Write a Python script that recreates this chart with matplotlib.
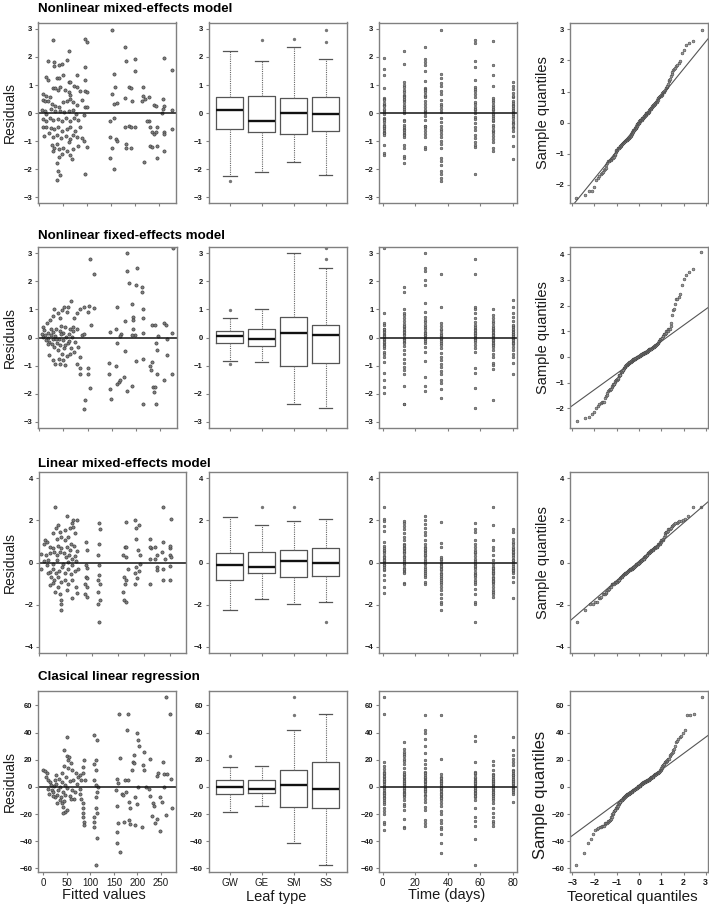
import math
import numpy as np
import matplotlib
matplotlib.use("Agg")
import matplotlib.pyplot as plt

plt.rcParams['font.family'] = ['Liberation Sans', 'DejaVu Sans']

# ---------------- data ----------------
titles = ["Nonlinear mixed-effects model", "Nonlinear fixed-effects model",
          "Linear mixed-effects model", "Clasical linear regression"]
leaf_types = ["GW", "GE", "SM", "SS"]
times = [1, 13, 26, 36, 57, 68, 80]

# residuals vs fitted values: (fitted, residual)
r1_fit = [(29,2.59),(95,2.65),(99,2.53),(151,2.98),(179,2.35),(61,2.23),(180,1.84),(200,1.91),(259,1.97),(19,1.85),
          (31,1.81),(31,1.69),(42,1.72),(47,1.75),(57,1.9),(95,1.66),(200,1.49),(276,1.55),(15,1.3),(19,1.18),
          (36,1.25),(42,1.25),(50,1.37),(62,1.1),(65,1.1),(79,1.34),(95,1.18),(155,1.4),(8,0.68),(15,0.62),
          (22,0.58),(28,0.9),(33,0.9),(38,0.82),(43,0.94),(54,0.82),(61,0.74),(65,0.66),(72,0.98),(78,0.94),
          (84,0.8),(95,0.78),(100,0.74),(151,0.68),(158,0.94),(186,0.92),(191,0.9),(217,0.92),(217,0.62),(228,0.58),
          (258,0.5),(259,0.26),(276,0.11),(7,0.47),(12,0.44),(19,0.42),(26,0.32),(33,0.26),(42,0.2),(49,0.38),
          (57,0.44),(64,0.49),(71,0.38),(78,0.3),(88,0.47),(95,0.23),(100,0.2),(155,0.32),(162,0.35),(179,0.54),
          (193,0.44),(214,0.44),(221,0.5),(240,0.3),(244,0.26),(258,0.14),(5,0.11),(12,0.08),(15,-0.04),(24,0.14),
          (33,0.06),(43,0.08),(52,0.02),(61,0.08),(70,0.11),(77,-0.04),(7,-0.21),(14,-0.27),(22,-0.18),(29,-0.25),
          (38,-0.21),(47,-0.27),(55,-0.18),(64,-0.3),(72,-0.16),(81,-0.25),(94,-0.06),(8,-0.51),(15,-0.49),(24,-0.54),
          (31,-0.57),(40,-0.51),(48,-0.63),(57,-0.57),(65,-0.51),(75,-0.63),(84,-0.49),(10,-0.81),(20,-0.73),(29,-0.87),
          (36,-0.78),(45,-0.9),(55,-0.81),(64,-0.93),(71,-0.78),(79,-0.85),(88,-0.9),(27,-1.13),(31,-1.23),(36,-1.09),
          (42,-1.29),(50,-1.23),(61,-1.05),(70,-1.29),(81,-1.17),(94,-0.99),(99,-1.21),(29,-1.35),(42,-1.56),(47,-1.47),
          (57,-1.35),(65,-1.49),(68,-1.65),(36,-1.8),(40,-2.06),(43,-2.21),(36,-2.4),(95,-2.18),(148,-0.27),(155,-0.16),
          (148,-0.87),(151,-1.23),(148,-1.61),(155,-2.0),(160,-0.93),(163,-0.99),(179,-0.49),(186,-0.45),(191,-0.49),(200,-0.49),
          (181,-1.11),(181,-1.23),(191,-1.23),(219,-1.73),(228,-0.27),(231,-0.51),(235,-0.66),(240,-0.75),(230,-1.17),(235,-1.2),
          (244,-0.66),(245,-1.17),(245,-1.59),(259,-0.66),(259,-0.75),(259,-1.35),(276,-0.57),(224,-0.27),(245,-0.49),(256,-0.01)]

r2_fit = [(8,0.38),(15,0.52),(22,0.62),(29,0.76),(31,1.0),(38,0.88),(42,0.68),(47,0.98),(52,1.07),(57,0.92),
          (60,1.1),(65,1.31),(71,0.68),(78,0.86),(85,1.0),(92,1.1),(100,0.92),(106,0.44),(113,1.04),(104,2.79),
          (113,2.26),(102,1.12),(5,0.14),(8,0.02),(12,0.08),(14,-0.1),(17,0.17),(19,0.0),(21,-0.15),(24,0.08),
          (26,-0.24),(28,-0.07),(29,0.2),(31,-0.33),(33,0.05),(35,0.32),(36,-0.19),(38,-0.45),(40,-0.04),(42,0.24),
          (43,-0.27),(45,0.4),(47,-0.57),(49,-0.1),(50,0.17),(52,-0.39),(53,0.36),(56,0.02),(57,-0.67),(59,-0.21),
          (61,0.12),(63,0.32),(65,-0.39),(67,0.02),(69,0.38),(72,-0.51),(74,-0.15),(78,0.29),(81,-0.33),(85,-0.69),
          (88,0.08),(92,0.14),(21,-0.63),(29,-0.81),(33,-0.95),(40,-0.75),(42,-0.95),(49,-0.79),(53,-0.99),(64,-0.6),
          (79,-0.95),(85,-1.1),(85,-1.29),(100,-1.1),(100,-1.31),(104,-1.79),(95,-2.24),(92,-2.54),(10,0.25),(18,-0.22),
          (25,0.3),(34,-0.05),(44,0.12),(54,-0.28),(62,-0.12),(70,0.22),(147,0.2),(158,0.32),(160,1.1),(169,0.14),
          (177,0.6),(181,2.35),(182,3.02),(185,1.93),(192,1.19),(194,0.74),(194,0.62),(194,0.32),(199,0.08),(203,2.46),
          (201,1.87),(213,1.79),(213,1.63),(215,1.0),(215,0.71),(215,0.17),(192,0.08),(168,0.05),(144,-0.9),(144,-1.29),
          (146,-1.82),(148,-2.18),(158,-1.02),(160,-0.21),(160,-1.67),(165,-1.58),(168,-1.52),(175,-1.4),(178,-0.48),(182,-1.9),
          (192,-1.74),(201,-0.83),(215,-0.75),(215,-2.36),(230,-1.02),(231,-1.17),(233,-0.87),(235,-1.76),(237,-1.94),(240,-1.76),
          (242,-2.38),(244,-1.29),(244,-0.45),(242,-0.19),(234,0.44),(240,0.44),(246,0.05),(258,0.5),(262,0.44),(258,-1.52),
          (265,-0.63),(265,-0.07),(274,0.17),(274,-1.29),(276,3.18)]

r3_fit = [(11,1.06),(8,0.9),(14,0.98),(30,2.65),(52,2.21),(62,1.86),(65,2.02),(72,2.02),(36,1.78),(32,1.62),
          (39,1.46),(49,1.54),(58,1.62),(65,1.7),(68,1.38),(27,1.38),(33,1.14),(42,1.22),(49,1.06),(55,1.19),
          (61,0.9),(20,0.75),(27,0.71),(36,0.78),(42,0.67),(52,0.75),(58,0.59),(66,0.78),(72,0.56),(4,0.4),
          (13,0.35),(20,0.43),(28,0.51),(34,0.35),(39,0.51),(47,0.43),(51,0.27),(57,0.35),(62,0.19),(68,0.3),
          (8,0.08),(17,0.14),(27,-0.08),(34,0.11),(46,-0.05),(55,0.03),(63,-0.13),(70,0.08),(4,-0.33),(14,-0.13),
          (20,-0.44),(27,-0.33),(32,-0.52),(38,-0.4),(44,-0.21),(49,-0.49),(55,-0.33),(60,-0.56),(68,-0.4),(74,-0.29),
          (17,-0.52),(23,-0.68),(28,-0.81),(36,-0.71),(42,-0.92),(49,-0.81),(55,-1.0),(62,-0.84),(70,-1.16),(20,-1.08),
          (27,-0.97),(35,-1.16),(30,-1.4),(39,-1.48),(41,-1.76),(42,-1.95),(42,-2.27),(52,-1.32),(63,-1.67),(72,-1.44),
          (89,0.98),(91,0.59),(89,-0.13),(91,-0.24),(89,-0.68),(91,-0.76),(87,-1.03),(91,-1.16),(87,-1.48),(91,-1.63),
          (114,1.89),(115,1.57),(114,0.87),(112,0.35),(114,-0.13),(114,-0.6),(112,-0.84),(115,-1.03),(112,-1.4),(115,-1.79),
          (112,-1.95),(114,-2.83),(160,0.35),(165,0.27),(163,0.75),(166,0.75),(161,-0.68),(166,-0.81),(163,-1.0),(160,-1.4),
          (161,-1.76),(166,-1.87),(166,1.94),(169,-0.29),(182,2.02),(185,1.62),(190,1.78),(184,1.14),(188,0.59),(192,0.35),
          (185,-0.21),(190,-0.4),(182,-0.52),(182,-1.0),(186,-0.76),(192,-0.08),(211,1.1),(214,0.67),(211,0.75),(212,0.19),
          (211,-1.03),(220,0.75),(224,0.35),(224,-0.21),(225,-0.37),(220,0.19),(236,2.65),(237,0.98),(235,0.51),(239,0.19),
          (236,-0.29),(236,-0.81),(249,0.67),(250,0.78),(252,2.05),(250,0.35),(252,0.24),(249,-0.17),(250,-0.81)]

r4_fit = [(0,12.7),(4,11.8),(7,10.3),(6,7.3),(11,5.4),(14,3.7),(16,1.2),(11,-1.2),(18,-2.4),(13,-4.9),
          (21,-3.7),(23,0.5),(25,4.9),(27,8.6),(28,2.4),(30,-6.1),(32,-2),(34,6.1),(35,0),(37,-7.8),
          (39,3.7),(39,10.3),(41,-3.7),(43,15.2),(44,27.4),(46,1.2),(46,-6.1),(48,7.3),(50,36.7),(50,22.5),
          (51,-0.5),(53,20.1),(53,14.2),(55,22),(57,4.4),(58,17.6),(60,12.2),(62,-2.4),(64,4.9),(65,-8.6),
          (67,-3.7),(70,10.3),(71,2.4),(39,-12.2),(41,-14.7),(44,-10.3),(50,-16.7),(46,-18.4),(57,-6.9),(59,-8.6),
          (35,-9.3),(30,-11.8),(25,-7.3),(20,-6.9),(41,-19.6),(77,-1.2),(78,-4.9),(80,-8.6),(74,7.3),(78,8.6),
          (81,4.9),(84,-11.8),(85,-15.9),(85,-19.6),(85,-22),(87,-25.7),(87,-28.2),(87,19.6),(85,14.7),(85,10.3),
          (89,4.9),(108,38),(114,34.3),(111,19.6),(108,17.1),(111,12.2),(108,4.9),(112,1.2),(111,-7.3),(111,-15.9),
          (114,-19.6),(108,-22.5),(108,-25.7),(108,-29.4),(114,-38),(112,-57.6),(116,0),(114,-3.7),(156,6.1),(158,2.9),
          (155,-2.4),(156,-14.2),(158,-26.5),(156,-33.1),(156,-41.6),(160,53.4),(163,21.6),(162,-47.8),(167,-4.9),(170,-6.1),
          (171,-25.7),(174,4.9),(176,-3.7),(178,42.1),(179,53.4),(181,5.4),(183,-24.5),(185,-27.4),(183,-11),(185,-15.9),
          (189,12.2),(191,18.4),(192,17.6),(193,23.3),(195,-7.8),(195,-28.2),(199,39.7),(200,-12.7),(201,34.3),(203,29.9),
          (201,0),(209,-29.4),(211,15.9),(214,12.2),(214,25.7),(219,0),(224,-1.2),(227,-6.9),(226,20.8),(231,-21.5),
          (233,-12.2),(236,-14.2),(238,-26.5),(241,7.8),(243,10.3),(247,-32.3),(247,-7.3),(252,-11),(254,18.4),(256,9.8),
          (257,0),(260,66.1),(260,-20.8),(262,9.8),(270,53.9),(271,6.1),(273,-15.9),(241,-24)]

# residuals grouped by sampling time (one list per entry of `times`)
r1_time = [
    [1.97,1.57,1.37,0.9,0.55,0.5,0.45,0.3,0.28,0.24,0.1,0.05,-0.04,-0.16,-0.2,-0.33,-0.42,-0.5,-0.55,-0.6,-0.66,-0.7,-0.73,-0.8,-1.13,-1.44,-1.5,0.35,-0.25,-0.45,0.15],
    [2.23,1.75,1.1,1.01,0.92,0.82,0.74,0.64,0.6,0.56,0.47,0.38,0.3,0.23,0.08,-0.01,-0.25,-0.42,-0.51,-0.57,-0.62,-0.67,-0.75,-0.87,-1.13,-1.23,-1.53,-1.61,-1.77,0.15,-0.3,0.5,-0.8],
    [2.35,1.93,1.81,1.7,1.49,1.16,0.9,0.85,0.82,0.74,0.6,0.56,0.44,0.32,0.08,-0.01,-0.25,-0.45,-0.48,-0.54,-0.75,-0.87,-1.21,-1.29,0.2,-0.1,0.65,-0.65,0.1],
    [2.98,1.4,1.25,1.06,0.98,0.8,0.68,0.32,0.26,-0.16,-0.33,-0.57,-0.75,-0.87,-0.99,-1.11,-1.23,-1.59,-1.71,-1.85,-2.07,-2.19,-2.31,-2.42,0.05,-0.45,0.45,-0.65,0.15],
    [2.62,2.51,1.85,1.64,1.18,0.94,0.78,0.68,0.56,0.32,0.23,0.1,-0.01,-0.13,-0.22,-0.6,-0.78,-1.05,-1.13,-1.21,-2.19,0.4,-0.35,0.15,-0.5,0.85,-0.9],
    [2.57,1.73,1.34,0.98,0.47,0.38,0.23,0.1,-0.01,-0.1,-0.18,-0.3,-0.42,-0.51,-0.63,-0.73,-0.81,-0.93,-1.05,-1.23,-1.35,0.55,0.3,-0.05,-0.25,-0.6,0.15],
    [1.1,0.98,0.86,0.7,0.56,0.44,0.3,0.18,0.08,-0.01,-0.1,-0.18,-0.27,-0.37,-0.49,-0.63,-0.81,-1.17,-1.65,0.35,0.12,-0.05,-0.4,-0.55,0.62,0.25]]

r2_time = [
    [4.08,3.18,0.88,0.52,0.44,0.32,0.24,0.14,0.02,-0.1,-0.19,-0.27,-0.39,-0.51,-0.6,-0.69,-0.87,-1.26,-1.5,-1.76,-1.98,0.1,-0.05,0.2,-0.15,0.3,0.05,-0.3],
    [1.81,1.63,1.0,0.88,0.8,0.68,0.6,0.48,0.36,0.24,0.14,0.08,-0.04,-0.15,-0.31,-0.45,-0.57,-0.75,-0.9,-1.05,-1.14,-1.29,-1.74,-2.36,-2.38,0.0,0.2,-0.1,0.3,-0.2,0.42],
    [3.42,3.02,2.46,2.35,2.05,1.87,1.21,0.92,0.74,0.64,0.56,0.38,0.2,0.08,0.0,-0.12,-0.33,-0.51,-0.85,-1.4,-1.74,-1.9,0.3,-0.05,0.15,0.45,-0.2,0.1],
    [2.26,1.1,0.52,0.4,0.26,0.17,-0.07,-0.19,-0.36,-0.55,-0.69,-0.81,-0.93,-1.05,-1.19,-1.29,-1.52,-1.62,-1.82,-2.14,0.05,-0.12,0.1,-0.28,0.32,-0.02],
    [3.3,2.8,2.26,1.1,1.0,0.88,0.71,0.56,0.44,0.32,0.2,0.12,0.02,-0.07,-0.15,-0.39,-0.51,-1.07,-1.26,-1.79,-2.5,0.08,-0.02,0.25,0.38,-0.1,0.15,-0.25],
    [1.0,0.8,0.68,0.6,0.5,0.4,0.24,0.14,0.05,-0.04,-0.12,-0.24,-0.33,-0.43,-0.57,-0.69,-0.9,-0.99,-1.11,-2.24,0.1,-0.08,0.18,0.3,-0.18,0.0,0.35,-0.28],
    [1.33,1.1,0.88,0.74,0.6,0.4,0.36,0.26,0.2,0.14,0.08,0.0,-0.07,-0.15,-0.24,-0.33,-0.45,-0.57,-0.69,-0.9,-1.31,0.05,-0.1,0.12,0.3,-0.2,0.45,-0.02,0.18]]

r3_time = [
    [2.65,2.05,1.97,1.73,1.51,0.98,0.78,0.67,0.54,0.43,0.3,0.19,0.08,-0.02,-0.13,-0.21,-0.37,-0.6,-0.81,-1.16,-1.44,0.25,-0.3,0.6,-0.1,0.12],
    [1.97,1.86,1.73,1.57,1.38,1.22,1.06,0.9,0.83,0.75,0.62,0.51,0.43,0.32,0.19,0.08,-0.02,-0.13,-0.24,-0.37,-0.44,-0.52,-0.97,-1.03,0.55,0.25,-0.3,0.7,0.0],
    [2.21,2.02,1.83,1.62,1.46,1.3,1.06,0.87,0.75,0.67,0.54,0.43,0.3,0.19,0.08,-0.05,-0.21,-0.4,-0.52,-0.68,-0.92,-1.03,0.35,0.6,-0.3,0.0,-0.6],
    [1.94,0.94,0.75,0.24,0.11,-0.08,-0.21,-0.37,-0.49,-0.65,-0.76,-0.92,-1.03,-1.16,-1.32,-1.48,-1.71,-1.87,-1.98,-2.24,0.0,-0.3,-0.55,-0.85,0.15,-0.15],
    [1.89,1.57,1.46,1.06,0.87,0.75,0.59,0.43,0.19,0.08,-0.08,-0.21,-0.33,-0.44,-0.56,-0.68,-0.81,-0.92,-1.03,-1.24,-1.51,-1.87,-1.98,-2.83,0.3,-0.15,0.5,-0.6,0.0],
    [2.65,1.78,1.06,0.75,0.59,0.35,-0.08,-0.21,-0.33,-0.44,-0.56,-0.68,-0.81,-0.92,-1.03,-1.16,-1.29,-1.4,-1.51,-1.63,-0.5,-0.25,-0.75,-0.9,0.1,-0.4],
    [1.57,1.46,1.1,0.98,0.87,0.75,0.59,0.46,0.35,0.24,0.14,0.03,-0.08,-0.17,-0.29,-0.4,-0.52,-0.68,-0.92,-1.67,0.5,0.1,-0.25,0.65,-0.35]]

r4_time = [
    [66.1,53.9,18.4,15.2,13.5,11,9.3,7.3,5.4,3.7,2,0,-2,-3.7,-5.4,-7.3,-9.3,-11,-12.7,-15.9,-17.6,-20.1,-25.7,-27.4,-31.8,1,-1,4.5,-4.5,6,-6,8,-8.5,10],
    [33.1,28.2,25.7,24,22.5,20.8,19.1,17.1,14.2,11,8.6,6.9,5.4,3.7,2,0.5,-1.2,-3.7,-6.1,-7.8,-9.8,-12.7,-14.2,-16.7,-23.3,-29.4,-30.6,1.5,-2.5,4,-4.5,7.5,-5,9.5,-0.5,3],
    [53.1,42.1,39.7,35.5,29.9,25,19.6,17.1,14.2,11,8.6,5.4,3.7,2,-0.5,-2,-6.1,-8.6,-11,-14.7,-17.1,-24.5,-26.5,-28.9,1,-1.5,6.5,-4,7.5,-3,10,-7,4.5],
    [53.1,20.8,9.3,7.3,5.4,3.7,0.5,-2,-4.4,-6.1,-7.8,-9.8,-11.8,-14.2,-17.6,-20.1,-24.5,-26.5,-29.4,-31.3,-34.8,-41.1,-48.5,1.5,-1,2.5,-3,4.5,-5,6.5,-8.5,-0.5],
    [37.2,33.8,18.4,11,9.3,6.9,5.4,3.7,2,0,-2,-3.7,-5.4,-7.3,-9.3,-15.9,-22,-25,-28.9,-38.7,-57.6,1,-1,4.5,-4.5,7.5,-6.5,2.5,-2.5,10],
    [19.1,15.9,12.7,9.8,7.3,5.4,3.7,2,0.5,-1.2,-2.9,-4.9,-6.9,-9.3,-11.8,-15.9,-19.1,-22,-25,-26.9,-28.9,1,-0.5,4.5,-3.5,6,-5.5,8.5,-8,2.5],
    [36.7,27.4,23.3,20.8,18.4,15.9,12.7,10.3,7.3,5.4,3.7,2,-0.5,-3.7,-11,1,-1.5,4.5,6,8.5,-2,9,3,-5.5,11.5]]

# box statistics per leaf type (GW, GE, SM, SS)
r1_box_q1 = [-0.57, -0.66, -0.75, -0.63]
r1_box_med = [0.11, -0.27, 0.0, -0.05]
r1_box_q3 = [0.56, 0.62, 0.53, 0.56]
r1_box_lo = [-2.24, -2.09, -1.74, -2.21]
r1_box_hi = [2.23, 1.84, 2.35, 1.93]
r1_box_out = [[-2.42], [2.59], [2.65], [2.53, 2.98]]

r2_box_q1 = [-0.19, -0.30, -1.01, -0.89]
r2_box_med = [0.05, -0.07, 0.15, 0.08]
r2_box_q3 = [0.24, 0.32, 0.74, 0.46]
r2_box_lo = [-0.83, -0.86, -2.36, -2.51]
r2_box_hi = [0.68, 1.00, 3.02, 2.46]
r2_box_out = [[0.98, -0.95], [], [], [2.80, 3.18]]

r3_box_q1 = [-0.84, -0.48, -0.71, -0.65]
r3_box_med = [-0.13, -0.21, 0.06, 0.0]
r3_box_q3 = [0.46, 0.51, 0.59, 0.67]
r3_box_lo = [-2.27, -1.75, -1.95, -1.87]
r3_box_hi = [2.17, 1.78, 1.98, 2.05]
r3_box_out = [[], [2.65], [2.65], [-2.83]]

r4_box_q1 = [-5.4, -4.2, -14.7, -15.4]
r4_box_med = [0.0, -1.2, 1.2, -1.2]
r4_box_q3 = [5.4, 5.4, 12.2, 18.4]
r4_box_lo = [-18.4, -14.2, -41.1, -57.6]
r4_box_hi = [14.7, 15.4, 42.1, 53.9]
r4_box_out = [[22.5], [], [53.1, 66.1], []]

# ---------------- layout (pixels) ----------------
W, H = 709, 908
fig = plt.figure(figsize=(W / 100, H / 100), dpi=100)


def rect(l, t, r, b):
    return [l / W, 1 - b / H, (r - l) / W, (b - t) / H]


rows_y = [(22.5, 203), (247, 428), (472, 653), (690.5, 872)]
col1_x = [(38, 176), (38, 177), (39, 186), (38, 176)]
col2_x = (208.5, 347)
col3_x = (379, 517)
col4_x = (570, 708)
title_base = [12.5, 239, 467, 680]

main_ylim = [(-3.21, 3.23), (-3.22, 3.22), (-4.3, 4.3), (-62.7, 71)]
main_yticks = [[-3, -2, -1, 0, 1, 2, 3], [-3, -2, -1, 0, 1, 2, 3], [-4, -2, 0, 2, 4],
               [-60, -40, -20, 0, 20, 40, 60]]
qq_ylim = [(-2.58, 3.22), (-2.77, 4.28), (-4.3, 4.3), (-62.7, 71)]
qq_yticks = [[-2, -1, 0, 1, 2, 3], [-2, -1, 0, 1, 2, 3, 4], [-4, -2, 0, 2, 4],
             [-60, -40, -20, 0, 20, 40, 60]]
fit_xlim = [(-2.7, 285), (-2.7, 285), (-0.6, 280), (-11.3, 282)]

fits = [r1_fit, r2_fit, r3_fit, r4_fit]
time_res = [r1_time, r2_time, r3_time, r4_time]
boxes = [(r1_box_q1, r1_box_med, r1_box_q3, r1_box_lo, r1_box_hi, r1_box_out),
         (r2_box_q1, r2_box_med, r2_box_q3, r2_box_lo, r2_box_hi, r2_box_out),
         (r3_box_q1, r3_box_med, r3_box_q3, r3_box_lo, r3_box_hi, r3_box_out),
         (r4_box_q1, r4_box_med, r4_box_q3, r4_box_lo, r4_box_hi, r4_box_out)]

SPINE = '#808080'
TXT = '#1a1a1a'


def style(ax, last, xsize=7):
    for s in ax.spines.values():
        s.set_color(SPINE)
        s.set_linewidth(1.0)
    ax.tick_params(direction='out', length=2.5, width=0.8, color=SPINE, pad=1.5)
    ax.tick_params(axis='y', labelsize=5.5, labelcolor=TXT)
    for lab in ax.get_yticklabels():
        lab.set_fontweight('bold')
    if not last:
        ax.tick_params(axis='x', labelbottom=False)
    else:
        ax.tick_params(axis='x', labelsize=xsize, labelcolor=TXT, pad=1.5)


def norm_ppf(p):
    lo, hi = -10.0, 10.0
    for _ in range(80):
        mid = 0.5 * (lo + hi)
        if 0.5 * (1 + math.erf(mid / math.sqrt(2))) < p:
            lo = mid
        else:
            hi = mid
    return 0.5 * (lo + hi)


for i in range(4):
    top, bot = rows_y[i]
    last = (i == 3)

    # --- column 1: residuals vs fitted ---
    ax = fig.add_axes(rect(col1_x[i][0], top, col1_x[i][1], bot))
    fx = [p[0] for p in fits[i]]
    fy = [p[1] for p in fits[i]]
    ax.plot(fx, fy, 'o', ms=2.3, mfc='#808080', mec='#3a3a3a', mew=0.45, ls='none')
    ax.axhline(0, color='#111111', lw=1.1)
    ax.set_xlim(*fit_xlim[i])
    ax.set_ylim(*main_ylim[i])
    ax.set_yticks(main_yticks[i])
    ax.set_xticks([0, 50, 100, 150, 200, 250])
    style(ax, last)

    # --- column 2: boxplots by leaf type ---
    ax = fig.add_axes(rect(col2_x[0], top, col2_x[1], bot))
    q1, med, q3, lo, hi, out = boxes[i]
    stats = [dict(q1=q1[k], med=med[k], q3=q3[k], whislo=lo[k], whishi=hi[k],
                  fliers=out[k], label=leaf_types[k]) for k in range(4)]
    ax.bxp(stats, positions=[1, 2, 3, 4], widths=0.84, capwidths=0.42,
           boxprops=dict(color='#555555', lw=0.9),
           medianprops=dict(color='#111111', lw=1.7),
           whiskerprops=dict(color='#666666', lw=0.8, ls=(0, (1, 1))),
           capprops=dict(color='#555555', lw=0.9),
           flierprops=dict(marker='o', ms=1.4, mfc='#777777', mec='#777777', ls='none'))
    ax.set_xlim(0.33, 4.67)
    ax.set_ylim(*main_ylim[i])
    ax.set_yticks(main_yticks[i])
    ax.set_xticks([1, 2, 3, 4])
    ax.set_xticklabels(leaf_types)
    style(ax, last)

    # --- column 3: residuals vs time ---
    ax = fig.add_axes(rect(col3_x[0], top, col3_x[1], bot))
    for t, vals in zip(times, time_res[i]):
        ax.plot([t] * len(vals), vals, 'o', ms=1.9, mfc='#8a8a8a', mec='#444444', mew=0.4, ls='none')
    ax.axhline(0, color='#111111', lw=1.1)
    ax.set_xlim(-2.3, 82.6)
    ax.set_ylim(*main_ylim[i])
    ax.set_yticks(main_yticks[i])
    ax.set_xticks([0, 20, 40, 60, 80])
    style(ax, last)

    # --- column 4: normal QQ plot of all residuals ---
    ax = fig.add_axes(rect(col4_x[0], top, col4_x[1], bot))
    res = np.sort(np.concatenate([np.array(v, dtype=float) for v in time_res[i]]))
    n = len(res)
    theo = np.array([norm_ppf((k + 0.5) / n) for k in range(n)])
    ax.plot(theo, res, 'o', ms=2.0, mfc='#9a9a9a', mec='#444444', mew=0.4, ls='none')
    yq1, yq3 = np.percentile(res, [25, 75])
    xq1, xq3 = norm_ppf(0.25), norm_ppf(0.75)
    slope = (yq3 - yq1) / (xq3 - xq1)
    icpt = yq1 - slope * xq1
    ax.axline((0, icpt), slope=slope, color='#555555', lw=0.8)
    ax.set_xlim(-3.1, 3.1)
    ax.set_ylim(*qq_ylim[i])
    ax.set_yticks(qq_yticks[i])
    ax.set_xticks([-3, -2, -1, 0, 1, 2, 3])
    style(ax, last, xsize=6.3)
    if last:
        for lab in ax.get_xticklabels():
            lab.set_fontweight('bold')

    # --- row texts ---
    fig.text(38 / W, 1 - title_base[i] / H, titles[i], fontsize=9.6, fontweight='bold',
             color='#000000', va='baseline', ha='left')
    yc = 1 - (top + bot) / 2 / H
    fig.text(10 / W, yc, "Residuals", rotation=90, fontsize=10, ha='center', va='center', color=TXT)
    if last:
        fig.text(541 / W, 1 - 795 / H, "Sample quantiles", rotation=90,
                 fontsize=12, ha='center', va='center', color=TXT)
    else:
        fig.text(543 / W, yc, "Sample quantiles", rotation=90,
                 fontsize=10.5, ha='center', va='center', color=TXT)

# bottom axis labels
fig.text(104 / W, 1 - 895 / H, "Fitted values", fontsize=10.5, ha='center', va='center', color=TXT)
fig.text(276 / W, 1 - 897 / H, "Leaf type", fontsize=10.5, ha='center', va='center', color=TXT)
fig.text(447 / W, 1 - 895 / H, "Time (days)", fontsize=10.5, ha='center', va='center', color=TXT)
fig.text(632 / W, 1 - 897 / H, "Teoretical quantiles", fontsize=11, ha='center', va='center', color=TXT)

fig.savefig("out.png", dpi=100, facecolor='white')
